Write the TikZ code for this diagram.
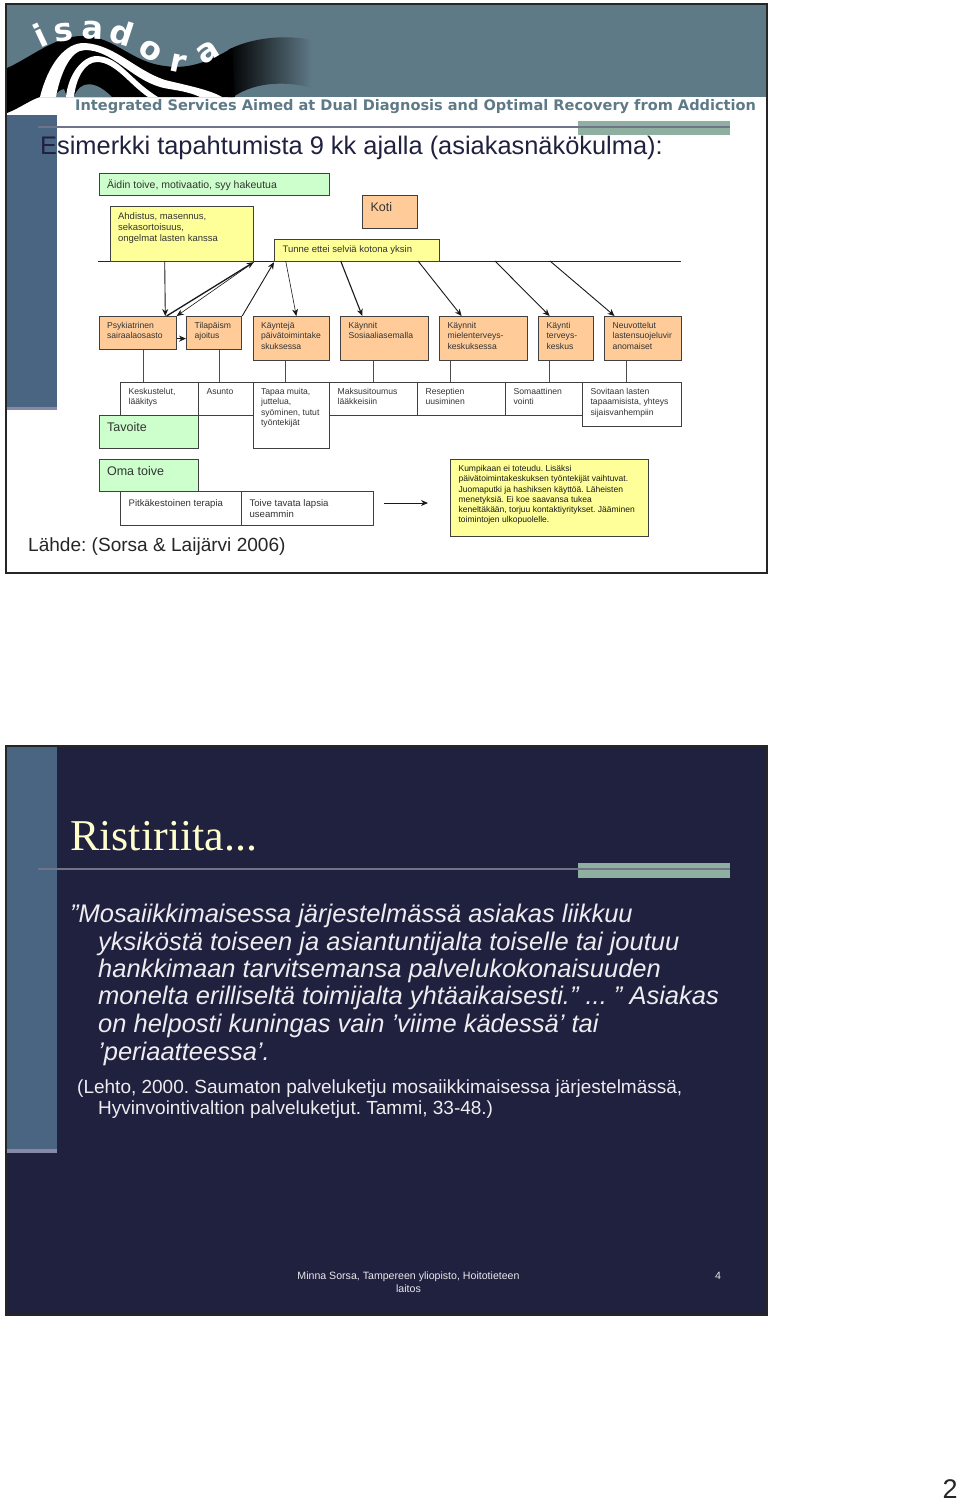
\documentclass[tikz,border=0pt]{standalone}
\usepackage{fontspec}
\setmainfont{Liberation Sans}
\newfontfamily\serifface{Liberation Serif}
\newfontfamily\logoface{DejaVu Sans}
\usepackage{tikz}
\usetikzlibrary{arrows.meta,calc}
\definecolor{hdrblue}{HTML}{5F7A87}
\definecolor{sidebar}{HTML}{4A6582}
\definecolor{strip}{HTML}{8A88A8}
\definecolor{accent}{HTML}{8FB0A0}
\definecolor{rulegray}{HTML}{6F7488}
\definecolor{navy}{HTML}{20203F}
\definecolor{boxorange}{HTML}{FFCC99}
\definecolor{boxyellow}{HTML}{FFFF99}
\definecolor{boxgreen}{HTML}{CCFFCC}
\definecolor{cream}{HTML}{FFFFCC}
\tikzset{
  box/.style={draw=black!75,line width=1.2pt,inner sep=0pt,anchor=north west,text=black!80,font=\fontsize{8.6}{10.1}\selectfont},
  orange/.style={box,fill=boxorange},
  yellow/.style={box,fill=boxyellow},
  green/.style={box,fill=boxgreen},
  plain/.style={box,fill=white},
  arr/.style={-{Stealth[length=7pt,width=6pt]},line width=0.9pt,draw=black!90},
  tie/.style={line width=1pt,draw=black!70},
  lett/.style={text=white,font=\logoface\bfseries\fontsize{32}{32}\selectfont,inner sep=0pt},
  ttl/.style={anchor=base west,inner sep=0pt},
}
% name, style, x0, y0, x1, y1, text (text sits top left inside the box)
\newcommand{\bx}[7]{%
  \pgfmathsetlengthmacro\bw{(#5-#3)*1pt}\pgfmathsetlengthmacro\bh{(#6-#4)*1pt}%
  \node[#2] (#1) at (#3,#4) {\parbox[t][\bh][t]{\bw}{\leftskip=8pt\rightskip=0pt plus 1fil\parindent=0pt\hyphenpenalty=10000\vspace*{\bxpad}#7}};}
\def\bxpad{6pt}
\frenchspacing
\begin{document}
\begin{tikzpicture}[x=1pt,y=-1pt,>=Stealth]
  \useasboundingbox (0,0) rectangle (960,1500);
  % upper slide: header band and logo
  \fill[hdrblue] (6,4) rectangle (767,97);
  \shade[left color=black,middle color=black!72!hdrblue,right color=hdrblue] (228,97) -- (228,50) .. controls (250,38) and (285,34) .. (312,40)
    -- (312,88) .. controls (290,82) and (258,80) .. (233,97) -- cycle;
  \fill[black] (7,68) .. controls (30,58) and (55,36) .. (82,36) .. controls (115,36) and (130,62) .. (165,66)
    .. controls (190,70) and (212,60) .. (232,48) -- (235,97) -- (40,97) .. controls (30,100) and (20,108) .. (7,113) -- cycle;
  \fill[hdrblue] (55,97) .. controls (57,92) and (60,90) .. (64,89) -- (67,97) -- cycle;
  \fill[hdrblue] (74,97) .. controls (80,80) and (95,80) .. (112,97) -- cycle;
  % white ribbons of the logo
  \fill[white] (40,97) .. controls (48,65) and (65,42) .. (85,43) .. controls (115,45) and (135,70) .. (165,80)
    .. controls (190,86) and (210,90) .. (222,97) -- (200,97) .. controls (185,90) and (170,90) .. (160,87)
    .. controls (130,78) and (112,50) .. (85,50) .. controls (70,50) and (60,75) .. (56,97) -- cycle;
  \fill[white] (66,97) .. controls (68,75) and (82,56) .. (97,56) .. controls (120,57) and (130,80) .. (158,97)
    -- (148,97) .. controls (130,85) and (115,62) .. (97,62) .. controls (85,62) and (76,78) .. (74,97) -- cycle;
  \foreach \lt/\lx/\ly/\lr/\nm in {i/40/35/25/la,s/64/33/8/lb,a/93/30/-3/lc,d/122/33/-18/ld,o/150/51/-32/le,r/178/63/-12/lf,a/208/52/32/lg}
    \node[lett,rotate=\lr] (\nm) at (\lx,\ly) {\lt};
  \node[ttl,text=hdrblue] (tagline) at (75,110) {\logoface\bfseries\fontsize{14.56}{15}\selectfont Integrated Services Aimed at Dual Diagnosis and Optimal Recovery from Addiction};
  % upper slide: side bar, rule, title
  \fill[sidebar] (7,115) rectangle (57,410);
  \fill[strip] (7,407) rectangle (57,410);
  \fill[accent] (578,121) rectangle (730,135);
  \draw[rulegray,line width=1.2pt] (38,127) -- (730,127);
  \node[ttl,text=navy] (title) at (40,154) {\fontsize{25.4}{28}\selectfont Esimerkki tapahtumista 9 kk ajalla (asiakasnäkökulma):};
  \draw[line width=1pt,black!85] (98,261) -- (681,261);
  % top boxes
  \bx{aidin}{green,font=\fontsize{10.5}{12}\selectfont}{98.5}{173}{329}{195}{Äidin toive, motivaatio, syy hakeutua}
  \bx{ahdistus}{yellow,font=\fontsize{9.5}{11.2}\selectfont}{109.5}{206}{252.5}{261}{Ahdistus, masennus,\\sekasortoisuus,\\ongelmat lasten kanssa}
  \bx{tunne}{yellow,font=\fontsize{9.5}{12}\selectfont}{274}{239}{439}{261}{Tunne ettei selviä kotona yksin}
  % row of services
  \bx{psyk}{orange}{98.5}{316}{175.5}{349}{Psykiatrinen\\sairaalaosasto}
  \bx{tilap}{orange}{186}{316}{241}{349}{Tilapäism\\ajoitus}
  \bx{kaynteja}{orange}{252.5}{316}{329}{360}{Käyntejä\\päivätoimintake\\skuksessa}
  \bx{sosi}{orange}{340}{316}{428}{360}{Käynnit\\Sosiaaliasemalla}
  \bx{miel}{orange}{439}{316}{527}{360}{Käynnit\\mielenterveys-\\keskuksessa}
  \bx{terv}{orange}{538}{316}{593}{360}{Käynti\\terveys-\\keskus}
  \bx{neuv}{orange}{604}{316}{681}{360}{Neuvottelut\\lastensuojeluvir\\anomaiset}
  % row of contents
  \bx{kesk}{plain}{120}{382}{198}{415}{Keskustelut,\\lääkitys}
  \bx{asunto}{plain}{198}{382}{252.5}{415}{Asunto}
  \bx{tapaa}{plain}{252.5}{382}{329}{448}{Tapaa muita,\\juttelua,\\syöminen, tutut\\työntekijät}
  \bx{maksu}{plain}{329}{382}{417}{415}{Maksusitoumus\\lääkkeisiin}
  \bx{resept}{plain}{417}{382}{505}{415}{Reseptien\\uusiminen}
  \bx{somaat}{plain}{505}{382}{582}{415}{Somaattinen\\vointi}
  \bx{sovit}{plain}{582}{382}{681}{426}{Sovitaan lasten\\tapaamisista, yhteys\\sijaisvanhempiin}
  \bx{kumpi}{yellow,text=black!90,font=\fontsize{8.5}{10.2}\selectfont}{450}{459}{648}{536}{Kumpikaan ei toteudu. Lisäksi\\päivätoimintakeskuksen työntekijät vaihtuvat.\\Juomaputki ja hashiksen käyttöä. Läheisten\\menetyksiä. Ei koe saavansa tukea\\keneltäkään, torjuu kontaktiyritykset. Jääminen\\toimintojen ulkopuolelle.}
  % goals
  \def\bxpad{7pt}
  \bx{koti}{orange,font=\fontsize{12.5}{14}\selectfont}{362}{195}{417}{228}{Koti}
  \bx{tavoite}{green,font=\fontsize{12.5}{14}\selectfont}{98.5}{415}{198}{448}{Tavoite}
  \bx{oma}{green,font=\fontsize{12.5}{14}\selectfont}{98.5}{459}{198}{491}{Oma toive}
  \def\bxpad{8pt}
  \bx{pitka}{plain,font=\fontsize{9.6}{11.4}\selectfont}{120}{491}{241}{525}{Pitkäkestoinen terapia}
  \bx{toive}{plain,font=\fontsize{9.6}{11.4}\selectfont}{241}{491}{373}{525}{Toive tavata lapsia\\useammin}
  % free ends on the long line
  \coordinate (la1) at (164.7,261);
  \coordinate (la2) at (285.7,261);
  \coordinate (la3) at (340.7,261);
  \coordinate (la4) at (418,261);
  \coordinate (la5) at (495,261);
  \coordinate (la6) at (550,261);
  \coordinate (fromtoive) at (384,503);
  \coordinate (tokumpi) at (428,503);
  % connectors
  \draw[arr] (la1) -- ([xshift=27.7pt]psyk.north);
  \draw[arr,line width=1.3pt] ([xshift=29pt]psyk.north) -- (ahdistus.south east);
  \draw[arr,line width=0.6pt] (ahdistus.south east) -- (psyk.north east);
  \draw[arr] ([yshift=-5.5pt]psyk.east) -- ([yshift=-5.5pt]tilap.west);
  \draw[arr] (tilap.north east) -- (tunne.south west);
  \draw[arr,line width=0.6pt] (la2) -- ([xshift=5pt]kaynteja.north);
  \draw[arr,line width=1.1pt] (la3) -- ([xshift=-22.3pt]sosi.north);
  \draw[arr] (la4) -- ([xshift=-22pt]miel.north);
  \draw[arr] (la5) -- ([xshift=-16.5pt]terv.north);
  \draw[arr] (la6) -- ([xshift=-28.5pt]neuv.north);
  \draw[arr] (fromtoive) -- (tokumpi);
  % ties between the two rows
  \foreach \up/\dn/\dx in {psyk/kesk/6,tilap/asunto/5.5,kaynteja/tapaa/-5.75,sosi/maksu/-11,miel/resept/-33,terv/somaat/-16.5,neuv/sovit/-16.5}
    \draw[tie] ([xshift=\dx pt]\up.south) -- ([xshift=\dx pt]\up.south |- \dn.north);
  \node[ttl,text=black!85] (source) at (28,551) {\fontsize{19.05}{22}\selectfont Lähde: (Sorsa \& Laijärvi 2006)};
  \draw[line width=2.4pt,black!85] (6,4) rectangle (767,573);
  % lower slide
  \fill[navy] (6,746) rectangle (767,1315);
  \fill[sidebar] (7,746) rectangle (57,1153);
  \fill[strip] (7,1149) rectangle (57,1153);
  \fill[accent] (578,863) rectangle (730,878);
  \draw[rulegray,line width=1.2pt] (38,869) -- (730,869);
  \node[ttl,text=cream] (ristiriita) at (70,850) {\serifface\fontsize{44}{48}\selectfont Ristiriita...};
  \foreach \ln/\xp/\yp/\tx in {qa/70/922/{”Mosaiikkimaisessa järjestelmässä asiakas liikkuu},
      qb/98/950/{yksiköstä toiseen ja asiantuntijalta toiselle tai joutuu},
      qc/98/977/{hankkimaan tarvitsemansa palvelukokonaisuuden},
      qd/98/1004/{monelta erilliseltä toimijalta yhtäaikaisesti.” ... ” Asiakas},
      qe/98/1032/{on helposti kuningas vain ’viime kädessä’ tai},
      qf/98/1060/{’periaatteessa’.}}
    \node[ttl,text=white!92!navy] (\ln) at (\xp,\yp) {\itshape\fontsize{25.5}{28}\selectfont \tx};
  \node[ttl,text=white!92!navy] (refa) at (77,1093) {\fontsize{19}{22}\selectfont (Lehto, 2000. Saumaton palveluketju mosaiikkimaisessa järjestelmässä,};
  \node[ttl,text=white!92!navy] (refb) at (98,1114) {\fontsize{19}{22}\selectfont Hyvinvointivaltion palveluketjut. Tammi, 33-48.)};
  \node[text=white!90!navy,inner sep=0pt,align=center,font=\fontsize{10.6}{13}\selectfont] (footer) at (408.5,1282.5) {Minna Sorsa, Tampereen yliopisto, Hoitotieteen\\laitos};
  \node[text=white!90!navy,inner sep=0pt,font=\fontsize{10.6}{13}\selectfont] (slideno) at (718,1276) {4};
  \draw[line width=2.4pt,black!85] (6,746) rectangle (767,1315);
  \node[text=black!85,inner sep=0pt,font=\fontsize{27}{30}\selectfont] (pageno) at (950,1489) {2};
\end{tikzpicture}
\end{document}
